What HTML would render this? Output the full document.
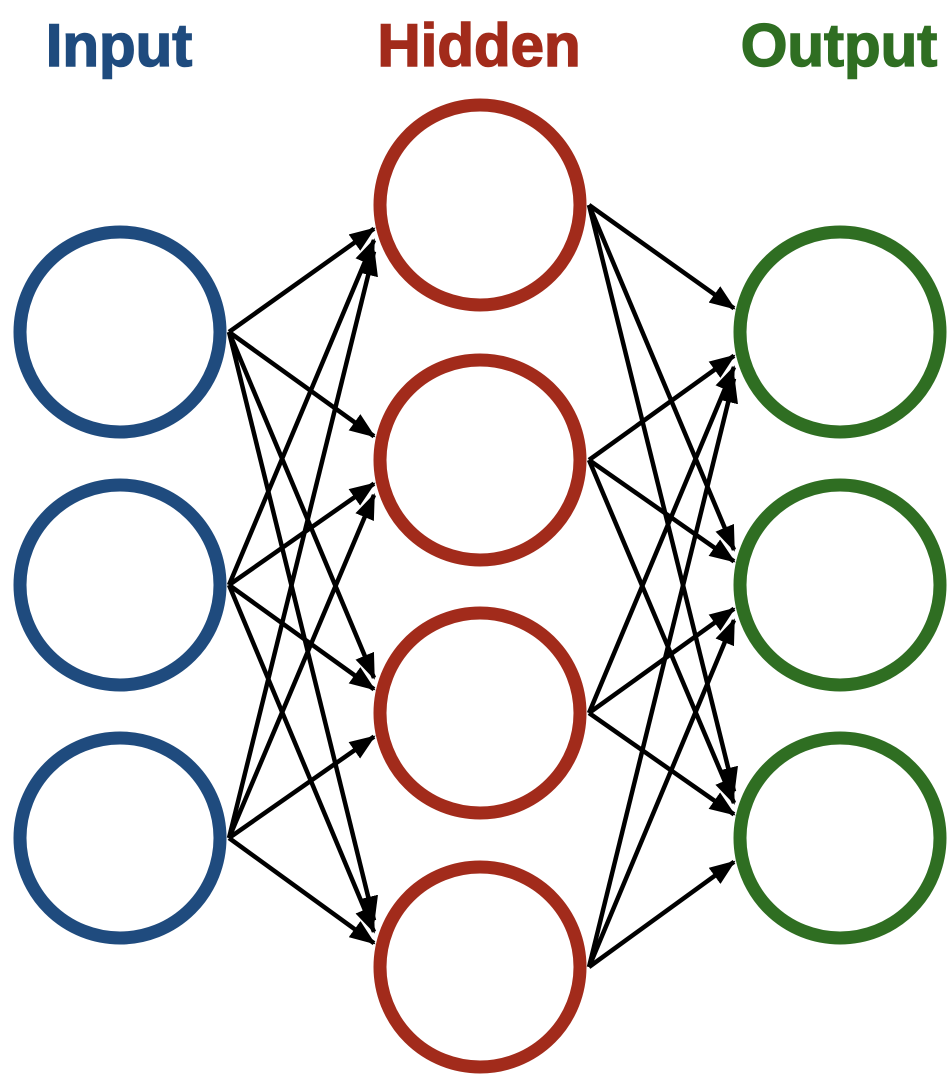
<!DOCTYPE html>
<html><head><meta charset="utf-8"><style>
html,body{margin:0;padding:0;background:#fff;}
svg{display:block;}
text{font-family:"Liberation Sans",sans-serif;font-weight:bold;}
</style></head><body>
<svg id="nn" width="948" height="1086" viewBox="0 0 948 1086" xmlns="http://www.w3.org/2000/svg">
<defs>
<marker id="ah" markerWidth="26" markerHeight="20" refX="24" refY="10" orient="auto" markerUnits="userSpaceOnUse">
<path d="M0,0 L26,10 L0,20 Z" fill="#000"/>
</marker>
</defs>
<text x="119" y="66" font-size="60" text-anchor="middle" fill="#1f4b7e" stroke="#1f4b7e" stroke-width="1.5">Input</text>
<text x="479" y="66" font-size="60" text-anchor="middle" fill="#a22b1b" stroke="#a22b1b" stroke-width="1.5">Hidden</text>
<text x="839" y="66" font-size="60" text-anchor="middle" fill="#2f6e22" stroke="#2f6e22" stroke-width="1.5">Output</text>
<g id="edges"></g>
<g id="nodes"></g>
</svg>
<script>
const layerNames = ['input','hidden','output'];
const layerCenters = [120, 480, 840];
const inputY = [332, 585, 838];
const hiddenY = [205, 460, 713, 967];
const outputY = [332, 585, 838];
const layerColors = ['#1f4b7e','#a22b1b','#2f6e22'];
const NS = 'http://www.w3.org/2000/svg';
const layers = [inputY, hiddenY, outputY];
const R = 100;
const edges = document.getElementById('edges');
const nodes = document.getElementById('nodes');
for (let l = 0; l < 2; l++) {
  const src = layers[l], dst = layers[l+1];
  src.forEach((sy, i) => {
    dst.forEach((dy, j) => {
      const d = sy - dy;
      const ln = document.createElementNS(NS, 'line');
      ln.setAttribute('x1', layerCenters[l] + 109);
      ln.setAttribute('y1', sy);
      ln.setAttribute('x2', layerCenters[l+1] - 106);
      ln.setAttribute('y2', dy + 0.045 * d + 18 * Math.sign(d));
      ln.setAttribute('stroke', '#000');
      ln.setAttribute('stroke-width', '4.5');
      ln.setAttribute('marker-end', 'url(#ah)');
      
      
      edges.appendChild(ln);
    });
  });
}
layers.forEach((ys, l) => {
  ys.forEach((y, i) => {
    const c = document.createElementNS(NS, 'circle');
    c.setAttribute('cx', layerCenters[l]);
    c.setAttribute('cy', y);
    c.setAttribute('r', R);
    c.setAttribute('fill', 'none');
    c.setAttribute('stroke', layerColors[l]);
    c.setAttribute('stroke-width', '13');
    
    
    nodes.appendChild(c);
  });
});
</script>
</body></html>
